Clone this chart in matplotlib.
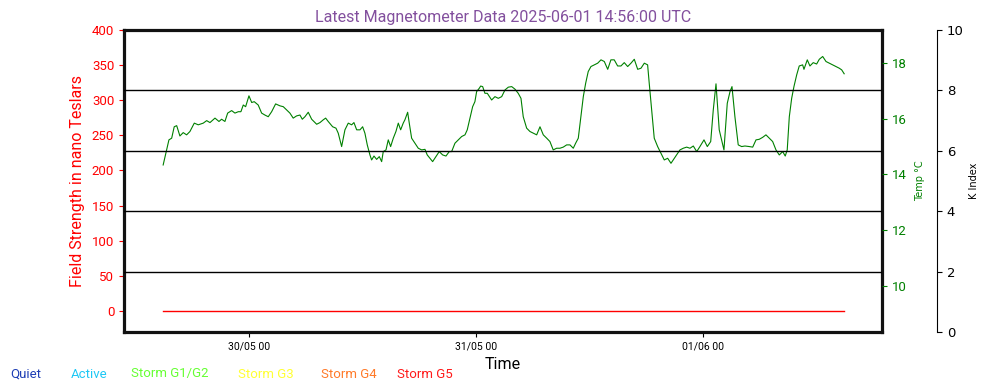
import matplotlib
matplotlib.use("Agg")
import matplotlib.pyplot as plt
import matplotlib.dates as mdates
import pandas as pd

plt.rcParams['font.family'] = ['Roboto', 'DejaVu Sans']

# =================================

title = "Latest Magnetometer Data 2025-06-01 14:56:00 UTC"
base_time = "2025-05-29 00:00"

# hours since base_time, temperature in degrees C
temp_hours = [
    14.93, 15.30, 15.54, 15.83, 16.10, 16.36, 16.70, 17.05, 17.41, 17.76,
    18.22, 18.64, 19.17, 19.53, 19.88, 20.41, 20.83, 21.11, 21.46, 21.75,
    22.17, 22.52, 22.87, 23.15, 23.40, 23.65, 24.00, 24.29, 24.56, 24.98,
    25.34, 25.69, 26.04, 26.40, 26.82, 27.28, 27.63, 27.99, 28.33, 28.68,
    29.04, 29.39, 29.64, 29.92, 30.27, 30.63, 31.16, 31.51, 31.86, 32.11,
    32.38, 32.85, 33.20, 33.44, 33.80, 34.15, 34.50, 34.86, 35.10, 35.39,
    35.74, 36.02, 36.26, 36.51, 36.79, 36.97, 37.22, 37.50, 37.78, 38.03,
    38.20, 38.49, 38.73, 38.98, 39.26, 39.54, 39.79, 40.04, 40.31, 40.49,
    40.78, 40.95, 41.20, 41.55, 41.90, 42.26, 42.61, 42.85, 43.14, 43.42,
    43.77, 44.12, 44.48, 44.83, 45.18, 45.43, 45.78, 46.13, 46.49, 46.84,
    47.08, 47.37, 47.65, 47.89, 48.07, 48.35, 48.50, 48.71, 48.95, 49.20,
    49.66, 50.01, 50.36, 50.72, 51.07, 51.42, 51.78, 52.12, 52.47, 52.76,
    53.00, 53.36, 53.71, 54.06, 54.42, 54.77, 55.12, 55.48, 55.82, 56.17,
    56.53, 56.88, 57.23, 57.59, 57.94, 58.29, 58.54, 58.82, 59.10, 59.35,
    59.60, 59.87, 60.16, 60.51, 60.87, 61.22, 61.57, 61.93, 62.27, 62.62,
    62.98, 63.33, 63.68, 64.04, 64.39, 64.74, 65.10, 65.45, 65.80, 66.15,
    66.32, 66.58, 66.85, 67.21, 67.56, 67.91, 68.27, 68.62, 68.97, 69.33,
    69.57, 69.92, 70.28, 70.63, 70.98, 71.34, 71.68, 72.11, 72.46, 72.82,
    73.09, 73.38, 73.72, 74.22, 74.57, 74.86, 75.07, 75.38, 75.73, 76.09,
    76.44, 76.90, 77.26, 77.61, 77.95, 78.31, 78.66, 79.01, 79.37, 79.72,
    80.07, 80.43, 80.70, 80.91, 81.13, 81.38, 81.62, 81.91, 82.18, 82.54,
    82.68, 83.03, 83.31, 83.66, 84.02, 84.30, 84.66, 85.01, 85.35, 85.71,
    86.06, 86.41, 86.67, 86.93,
]
temp_c = [
    14.34, 14.88, 15.24, 15.30, 15.71, 15.75, 15.38, 15.50, 15.42, 15.54,
    15.84, 15.78, 15.84, 15.93, 15.86, 16.02, 15.90, 15.98, 15.90, 16.20,
    16.29, 16.20, 16.25, 16.25, 16.49, 16.43, 16.82, 16.58, 16.61, 16.49,
    16.20, 16.13, 16.07, 16.25, 16.53, 16.46, 16.43, 16.31, 16.20, 16.02,
    16.10, 16.13, 15.98, 16.07, 16.23, 15.98, 15.80, 15.86, 15.96, 16.02,
    15.90, 15.71, 15.66, 15.48, 15.00, 15.60, 15.84, 15.78, 15.86, 15.60,
    15.60, 15.71, 15.48, 15.06, 14.70, 14.52, 14.66, 14.54, 14.64, 14.46,
    14.82, 14.88, 15.24, 15.00, 15.30, 15.54, 15.84, 15.60, 15.84, 15.96,
    16.23, 15.84, 15.30, 15.12, 14.94, 14.88, 14.90, 14.70, 14.58, 14.46,
    14.64, 14.82, 14.70, 14.66, 14.82, 14.82, 15.12, 15.24, 15.36, 15.42,
    15.60, 16.02, 16.43, 16.61, 16.97, 17.09, 17.17, 17.15, 16.91, 16.91,
    16.67, 16.79, 16.73, 16.79, 17.03, 17.13, 17.15, 17.06, 16.91, 16.73,
    16.07, 15.66, 15.54, 15.48, 15.42, 15.71, 15.42, 15.30, 15.18, 14.88,
    14.94, 14.94, 14.98, 15.06, 15.06, 14.94, 15.12, 15.30, 16.07, 16.79,
    17.27, 17.69, 17.87, 17.93, 17.99, 18.11, 18.05, 17.77, 18.11, 18.11,
    17.89, 17.89, 18.01, 17.87, 17.99, 18.13, 17.77, 17.81, 17.99, 17.93,
    17.27, 16.31, 15.30, 15.00, 14.76, 14.52, 14.58, 14.40, 14.58, 14.76,
    14.88, 14.94, 14.98, 14.94, 15.02, 14.82, 15.00, 15.24, 15.00, 15.18,
    16.31, 17.25, 15.60, 14.88, 16.55, 16.97, 17.15, 16.07, 15.06, 15.00,
    15.02, 15.00, 14.98, 15.24, 15.26, 15.33, 15.42, 15.30, 15.18, 14.88,
    14.70, 14.82, 14.66, 14.88, 16.07, 16.73, 17.15, 17.57, 17.89, 17.93,
    17.77, 18.11, 17.89, 18.01, 17.96, 18.13, 18.23, 18.05, 17.99, 17.93,
    17.87, 17.81, 17.75, 17.61,
]

# field strength (no data -> flat zero)
field_hours = [14.93, 86.93]
field_nt = [0, 0]

k_levels = [2, 4, 6, 8]

legend_labels = ["Quiet", "Active", "Storm G1/G2", "Storm G3", "Storm G4", "Storm G5"]
legend_colors = ["#1f3fb5", "#1ec8f5", "#66ff33", "#ffff33", "#ff7a29", "#ff1a1a"]
legend_x = [10, 71, 131, 238, 321, 397]

# ==================================

t0 = pd.Timestamp(base_time)
temp_t = [t0 + pd.Timedelta(hours=h) for h in temp_hours]
field_t = [t0 + pd.Timedelta(hours=h) for h in field_hours]

fig = plt.figure(figsize=(9.88, 3.9), dpi=100)
ax = fig.add_axes([124 / 988, 1 - 332 / 390, 758 / 988, 302 / 390])

ax.plot(field_t, field_nt, color="red", linewidth=1)
ax.set_ylim(-30, 400)
ax.set_yticks(range(0, 401, 50))
ax.tick_params(axis="y", colors="red", labelsize=9.5)
ax.set_ylabel("Field Strength in nano Teslars", color="red", fontsize=11.5, labelpad=5)
ax.set_xlim(t0 + pd.Timedelta(hours=10.79), t0 + pd.Timedelta(hours=90.93))
ax.xaxis.set_major_locator(mdates.DayLocator())
ax.xaxis.set_major_formatter(mdates.DateFormatter("%d/%m %H"))
ax.tick_params(axis="x", labelsize=7.5)
ax.set_xlabel("Time", fontsize=11.5, labelpad=4)
ax.set_title(title, color="#83509e", fontsize=11.5, pad=6)
for s in ax.spines.values():
    s.set_linewidth(2.3)
    s.set_color("#111111")

ax_t = ax.twinx()
ax_t.plot(temp_t, temp_c, color="green", linewidth=0.8)
ax_t.set_ylim(8.35, 19.18)
ax_t.set_yticks([10, 12, 14, 16, 18])
ax_t.tick_params(axis="y", colors="green", labelsize=9.5)
ax_t.set_ylabel("Temp °C", color="green", fontsize=7, family="DejaVu Sans", labelpad=6)
for s in ax_t.spines.values():
    s.set_visible(False)

ax_k = ax.twinx()
for k in k_levels:
    ax_k.axhline(k, color="black", linewidth=1)
ax_k.set_ylim(0, 10)
ax_k.set_yticks(range(0, 11, 2))
ax_k.spines["right"].set_position(("axes", 813 / 758))
for side in ["left", "top", "bottom"]:
    ax_k.spines[side].set_visible(False)
ax_k.tick_params(axis="y", labelsize=9.5)
for lab in ax_k.get_yticklabels():
    lab.set_family("DejaVu Sans")
ax_k.set_ylabel("K Index", fontsize=7, family="DejaVu Sans", labelpad=4)

for lab, col, x in zip(legend_labels, legend_colors, legend_x):
    fig.text(x / 988, 1 - 374 / 390, lab, color=col, fontsize=9.5, va="center")

plt.savefig("out.png", dpi=100)
plt.close()
